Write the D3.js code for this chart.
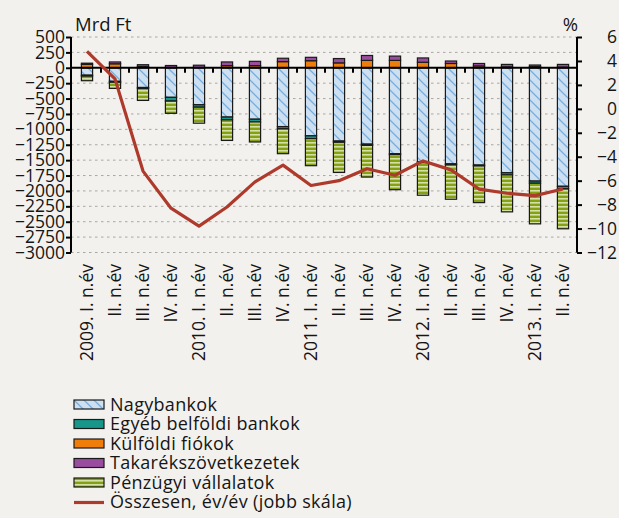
<!DOCTYPE html>
<html>
<head>
<meta charset="utf-8">
<script src="https://cdn.jsdelivr.net/npm/d3@7"></script>
<style>
  body { margin: 0; background: #f3f1ee; }
  svg { display: block; background: #f3f1ee; }
  text { font-family: 'Open Sans', sans-serif; fill: #151515; }
  .tick-label { font-size: 17.5px; }
  .title-label { font-size: 18.5px; }
  .cat-label { font-size: 17.5px; }
  .legend-label { font-size: 18px; letter-spacing: 0.3px; }
</style>
</head>
<body>
<svg width="619" height="518"></svg>
<script>
// Quarters on the x axis
const categories = [
  '2009. I. n.év', 'II. n.év', 'III. n.év', 'IV. n.év',
  '2010. I. n.év', 'II. n.év', 'III. n.év', 'IV. n.év',
  '2011. I. n.év', 'II. n.év', 'III. n.év', 'IV. n.év',
  '2012. I. n.év', 'II. n.év', 'III. n.év', 'IV. n.év',
  '2013. I. n.év', 'II. n.év'
]

// Series, Mrd Ft (left scale)
const nagybankok = [-120, -220, -320, -480, -600, -800, -835, -955, -1105, -1190, -1240, -1395, -1525, -1560, -1580, -1705, -1840, -1925]
const egyebBelfoldi = [-15, -15, -15, -60, -40, -45, -45, -35, -45, -20, -20, -15, -15, -15, -15, -35, -35, -40]
const kulfoldiFiokok = [55, 65, 20, 5, 5, 35, 35, 100, 115, 80, 120, 120, 90, 70, 30, 15, 20, 10]
const takarek = [20, 30, 30, 32, 37, 60, 70, 55, 55, 70, 80, 70, 70, 40, 40, 40, 25, 45]
const penzugyi = [-75, -100, -195, -200, -260, -335, -325, -405, -440, -490, -515, -570, -530, -560, -595, -600, -660, -650]

// Total, year on year % (right scale)
const osszesen = [4.8, 2.5, -5.2, -8.3, -9.8, -8.2, -6.1, -4.7, -6.4, -6.0, -5.0, -5.55, -4.35, -5.1, -6.7, -7.05, -7.25, -6.7]

// Tick labels
const leftTicks = d3.range(500, -3001, -250)
const rightTicks = d3.range(6, -13, -2)

const seriesNames = ['Nagybankok', 'Egyéb belföldi bankok', 'Külföldi fiókok', 'Takarékszövetkezetek', 'Pénzügyi vállalatok']
const lineName = 'Összesen, év/év (jobb skála)'

const svg = d3.select('svg')

// table for d3.stack built from the arrays above
const table = categories.map((c, i) => ({
  i,
  [seriesNames[0]]: nagybankok[i],
  [seriesNames[1]]: egyebBelfoldi[i],
  [seriesNames[2]]: kulfoldiFiokok[i],
  [seriesNames[3]]: takarek[i],
  [seriesNames[4]]: penzugyi[i]
}))

const plot = {left: 71, right: 577, top: 37, bottom: 252.5}

const xScale = d3.scalePoint()
  .domain(d3.range(categories.length))
  .range([73, 577])
  .padding(0.5)
const step = xScale.step()
const barW = step * 0.4

const yScale = d3.scaleLinear().domain([-3000, 500]).range([plot.bottom, plot.top])
const yRight = d3.scaleLinear().domain([-12, 6]).range([plot.bottom, plot.top])

// patterns: hatched light blue and striped green
const defs = svg.append('defs')
const hatch = defs.append('pattern')
  .attr('id', 'hatch')
  .attr('patternUnits', 'userSpaceOnUse')
  .attr('width', 10).attr('height', 10)
hatch.append('rect').attr('width', 10).attr('height', 10).attr('fill', '#cde0f1')
hatch.append('path')
  .attr('d', 'M0,0L10,10M-2,8L2,12M8,-2L12,2')
  .attr('stroke', '#78addb').attr('stroke-width', 1.3)

const stripes = defs.append('pattern')
  .attr('id', 'stripes')
  .attr('patternUnits', 'userSpaceOnUse')
  .attr('width', 6).attr('height', 4)
stripes.append('rect').attr('width', 6).attr('height', 4).attr('fill', '#86a016')
stripes.append('rect').attr('y', 2).attr('width', 6).attr('height', 1.6).attr('fill', '#d3e1a2')

const fills = {
  'Nagybankok': 'url(#hatch)',
  'Egyéb belföldi bankok': '#16978a',
  'Külföldi fiókok': '#ef7d0a',
  'Takarékszövetkezetek': '#9a4d9f',
  'Pénzügyi vállalatok': 'url(#stripes)'
}

// gridlines (dotted)
svg.append('g')
  .selectAll('line').data(leftTicks.filter(d => d !== 0))
  .enter().append('line')
    .attr('x1', plot.left).attr('x2', plot.right)
    .attr('y1', d => yScale(d)).attr('y2', d => yScale(d))
    .attr('stroke', '#a9a7a4')
    .attr('stroke-width', 1)
    .attr('stroke-dasharray', '2.5,3.5')

// stacked bars
const stack = d3.stack()
  .keys(seriesNames)
  .offset(d3.stackOffsetDiverging)
const stacked = stack(table)

svg.append('g')
  .selectAll('g').data(stacked)
  .enter().append('g')
    .attr('fill', d => fills[d.key])
  .selectAll('rect').data(d => d.filter(p => p[1] !== p[0]))
  .enter().append('rect')
    .attr('x', d => xScale(d.data.i) - barW / 2)
    .attr('y', d => yScale(Math.max(d[0], d[1])))
    .attr('width', barW)
    .attr('height', d => Math.abs(yScale(d[0]) - yScale(d[1])))
    .attr('stroke', '#1a1a1a')
    .attr('stroke-width', 1.2)

// zero line with small ticks between categories
svg.append('line')
  .attr('x1', plot.left).attr('x2', plot.right)
  .attr('y1', yScale(0)).attr('y2', yScale(0))
  .attr('stroke', '#000').attr('stroke-width', 2)
svg.append('g')
  .selectAll('line').data(d3.range(1, categories.length))
  .enter().append('line')
    .attr('x1', d => xScale(d) - step / 2).attr('x2', d => xScale(d) - step / 2)
    .attr('y1', yScale(0)).attr('y2', yScale(0) + 5)
    .attr('stroke', '#000').attr('stroke-width', 2)

// left axis
const leftAxis = d3.axisLeft(yScale)
  .tickValues(leftTicks)
  .tickSize(5)
  .tickFormat(d => d3.format('d')(d).replace('-', '−'))
const leftG = svg.append('g')
  .attr('transform', `translate(${plot.left},0)`)
  .call(leftAxis)
leftG.select('.domain').attr('stroke-width', 2).attr('d', `M0,${plot.top}V${plot.bottom}`)
leftG.selectAll('.tick line').attr('stroke-width', 2)
leftG.selectAll('.tick text')
  .attr('class', 'tick-label')
  .attr('x', -6)
leftG.attr('font-family', null).attr('font-size', null)

// right axis
const rightAxis = d3.axisRight(yRight)
  .tickValues(rightTicks)
  .tickSize(5)
  .tickFormat(d => d3.format('d')(d).replace('-', '−'))
const rightG = svg.append('g')
  .attr('transform', `translate(${plot.right},0)`)
  .call(rightAxis)
rightG.select('.domain').attr('stroke-width', 2).attr('d', `M0,${plot.top}V${plot.bottom}`)
rightG.selectAll('.tick line').attr('stroke-width', 2)
rightG.selectAll('.tick text')
  .attr('class', 'tick-label')
  .attr('x', 40)
  .attr('text-anchor', 'end')
rightG.attr('font-family', null).attr('font-size', null)

// axis titles
svg.append('text').attr('class', 'title-label')
  .attr('x', 75).attr('y', 31).text('Mrd Ft')
svg.append('text').attr('class', 'title-label')
  .attr('x', 578).attr('y', 31).attr('text-anchor', 'end').text('%')

// category labels, rotated
svg.append('g')
  .selectAll('text').data(categories)
  .enter().append('text')
    .attr('class', 'cat-label')
    .attr('text-anchor', 'end')
    .attr('transform', (d, i) => `translate(${xScale(i) + 6},264) rotate(-90)`)
    .text(d => d)

// the total line
const line = d3.line()
  .x((d, i) => xScale(i))
  .y(d => yRight(d))
svg.append('path')
  .datum(osszesen)
  .attr('d', line)
  .attr('fill', 'none')
  .attr('stroke', '#ad3a2b')
  .attr('stroke-width', 3.2)
  .attr('stroke-linejoin', 'round')

// legend
const legend = svg.append('g').attr('transform', 'translate(74,400)')
const rowH = 19.5
seriesNames.forEach((name, i) => {
  const row = legend.append('g').attr('transform', `translate(0,${i * rowH})`)
  row.append('rect')
    .attr('width', 30).attr('height', 9)
    .attr('fill', fills[name])
    .attr('stroke', '#1a1a1a').attr('stroke-width', 1.2)
  row.append('text')
    .attr('class', 'legend-label')
    .attr('x', 36).attr('y', 10.5)
    .text(name)
})
const lineRow = legend.append('g').attr('transform', `translate(0,${5 * rowH})`)
lineRow.append('line')
  .attr('x1', 0).attr('x2', 30).attr('y1', 5).attr('y2', 5)
  .attr('stroke', '#ad3a2b').attr('stroke-width', 3.2)
lineRow.append('text')
  .attr('class', 'legend-label')
  .attr('x', 36).attr('y', 10.5)
  .text(lineName)
</script>
</body>
</html>
